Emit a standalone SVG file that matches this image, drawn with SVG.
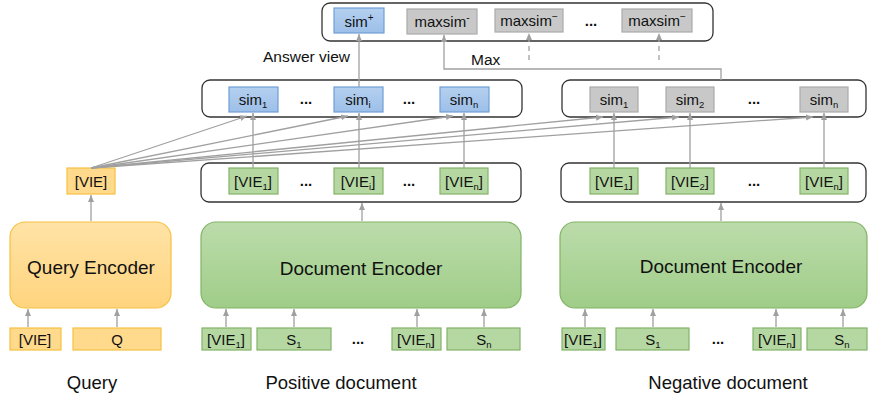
<svg xmlns="http://www.w3.org/2000/svg" width="875" height="398" viewBox="0 0 875 398">
<defs>
<marker id="ah" markerWidth="8" markerHeight="8" refX="7" refY="4" orient="auto" markerUnits="userSpaceOnUse">
<path d="M0,1 L7,4 L0,7 Z" fill="#a0a0a0"/>
</marker>
<linearGradient id="gG" x1="0" y1="0" x2="0" y2="1">
<stop offset="0" stop-color="#bcdcab"/><stop offset="1" stop-color="#9fcd88"/>
</linearGradient>
<linearGradient id="gO" x1="0" y1="0" x2="0" y2="1">
<stop offset="0" stop-color="#ffe3a6"/><stop offset="1" stop-color="#ffd47e"/>
</linearGradient>
<linearGradient id="gB" x1="0" y1="0" x2="0" y2="1">
<stop offset="0" stop-color="#b4d0f0"/><stop offset="1" stop-color="#9dbfe8"/>
</linearGradient>
</defs>
<style>
text{font-family:"Liberation Sans",Arial,sans-serif;fill:#111;}
.t{font-size:15px;text-anchor:middle;}
.enc{font-size:19px;text-anchor:middle;}
.lab{font-size:18.5px;text-anchor:middle;}
.sub{font-size:9.5px;}
.sup{font-size:10px;}
.cont{fill:#fff;stroke:#333;stroke-width:1.3;}
.g{fill:#b5d8a2;stroke:#82b366;stroke-width:1.2;}
.o{fill:#ffd98c;stroke:#f5c242;stroke-width:1.2;}
.b{fill:url(#gB);stroke:#6f9fd6;stroke-width:1.2;}
.gr{fill:#c8c8c8;stroke:#ababab;stroke-width:1.2;}
.ge{fill:url(#gG);stroke:#82b366;stroke-width:1.2;}
.oe{fill:url(#gO);stroke:#f5c242;stroke-width:1.2;}
.ca{stroke:#a0a0a0;stroke-width:1.3;fill:none;marker-end:url(#ah);}
.d{stroke:#a0a0a0;stroke-width:1.3;fill:none;stroke-dasharray:5,4;marker-end:url(#ah);}
.dots{font-size:15px;text-anchor:middle;font-weight:bold;}
.plain{font-size:15.5px;}
</style>

<g id="top-row">
<rect class="cont" x="322" y="3" width="391" height="38" rx="8"/>
<rect class="b" x="334" y="8" width="50" height="25"/>
<text class="t" x="359" y="26.5">sim<tspan class="sup" dy="-6">+</tspan></text>
<rect class="gr" x="407" y="9" width="70" height="25"/>
<text class="t" x="442" y="27">maxsim<tspan class="sup" dy="-6">-</tspan></text>
<rect class="gr" x="495" y="9" width="68" height="23"/>
<text class="t" x="529" y="25.5">maxsim<tspan class="sup" dy="-6">−</tspan></text>
<text class="dots" x="591" y="26">...</text>
<rect class="gr" x="622" y="9" width="70" height="23"/>
<text class="t" x="657" y="25.5">maxsim<tspan class="sup" dy="-6">−</tspan></text>
</g>

<g id="pos-sim">
<rect class="cont" x="202" y="80" width="320" height="37" rx="8"/>
<rect class="b" x="229" y="87" width="49" height="25"/>
<text class="t" x="253" y="104.5">sim<tspan class="sub" dy="3">1</tspan></text>
<text class="dots" x="306" y="104">...</text>
<rect class="b" x="334" y="87" width="49" height="25"/>
<text class="t" x="358" y="104.5">sim<tspan class="sub" dy="3">i</tspan></text>
<text class="dots" x="409" y="104">...</text>
<rect class="b" x="440" y="87" width="49" height="25"/>
<text class="t" x="464" y="104.5">sim<tspan class="sub" dy="3">n</tspan></text>
</g>

<g id="neg-sim">
<rect class="cont" x="562" y="80" width="304" height="37" rx="8"/>
<rect class="gr" x="590" y="87" width="48" height="25"/>
<text class="t" x="614" y="104.5">sim<tspan class="sub" dy="3">1</tspan></text>
<rect class="gr" x="666" y="87" width="48" height="25"/>
<text class="t" x="690" y="104.5">sim<tspan class="sub" dy="3">2</tspan></text>
<text class="dots" x="754" y="104">...</text>
<rect class="gr" x="800" y="87" width="48" height="25"/>
<text class="t" x="824" y="104.5">sim<tspan class="sub" dy="3">n</tspan></text>
</g>

<g id="query-vie">
<rect class="o" x="67" y="168" width="48" height="26"/>
<text class="t" x="91" y="186.5">[VIE]</text>
</g>

<g id="pos-vie">
<rect class="cont" x="201" y="163" width="320" height="39" rx="8"/>
<rect class="g" x="229" y="168" width="49" height="26"/>
<text class="t" x="253" y="186.5">[VIE<tspan class="sub" dy="3">1</tspan><tspan dy="-3">]</tspan></text>
<text class="dots" x="306" y="186">...</text>
<rect class="g" x="334" y="168" width="49" height="26"/>
<text class="t" x="358" y="186.5">[VIE<tspan class="sub" dy="3">i</tspan><tspan dy="-3">]</tspan></text>
<text class="dots" x="409" y="186">...</text>
<rect class="g" x="440" y="168" width="48" height="26"/>
<text class="t" x="464" y="186.5">[VIE<tspan class="sub" dy="3">n</tspan><tspan dy="-3">]</tspan></text>
</g>

<g id="neg-vie">
<rect class="cont" x="561" y="163" width="305" height="39" rx="8"/>
<rect class="g" x="590" y="168" width="48" height="26"/>
<text class="t" x="614" y="186.5">[VIE<tspan class="sub" dy="3">1</tspan><tspan dy="-3">]</tspan></text>
<rect class="g" x="666" y="168" width="48" height="26"/>
<text class="t" x="690" y="186.5">[VIE<tspan class="sub" dy="3">2</tspan><tspan dy="-3">]</tspan></text>
<text class="dots" x="754" y="186">...</text>
<rect class="g" x="800" y="168" width="48" height="26"/>
<text class="t" x="824" y="186.5">[VIE<tspan class="sub" dy="3">n</tspan><tspan dy="-3">]</tspan></text>
</g>

<g id="query-encoder">
<rect class="oe" x="10" y="222" width="161" height="86" rx="15"/>
<text class="enc" x="91" y="274">Query Encoder</text>
</g>
<g id="pos-encoder">
<rect class="ge" x="201" y="222" width="320" height="86" rx="15"/>
<text class="enc" x="361" y="275">Document Encoder</text>
</g>
<g id="neg-encoder">
<rect class="ge" x="560" y="222" width="307" height="86" rx="15"/>
<text class="enc" x="721" y="273">Document Encoder</text>
</g>

<g id="query-inputs">
<rect class="o" x="10" y="328" width="51" height="22"/>
<text class="t" x="35" y="344.5">[VIE]</text>
<rect class="o" x="73" y="328" width="88" height="22"/>
<text class="t" x="117" y="344.5">Q</text>
</g>
<g id="pos-inputs">
<rect class="g" x="202" y="328" width="49" height="22"/>
<text class="t" x="226" y="344.5">[VIE<tspan class="sub" dy="3">1</tspan><tspan dy="-3">]</tspan></text>
<rect class="g" x="257" y="328" width="74" height="22"/>
<text class="t" x="294" y="344.5">S<tspan class="sub" dy="3">1</tspan></text>
<text class="dots" x="358" y="344">...</text>
<rect class="g" x="392" y="328" width="49" height="22"/>
<text class="t" x="416" y="344.5">[VIE<tspan class="sub" dy="3">n</tspan><tspan dy="-3">]</tspan></text>
<rect class="g" x="447" y="328" width="73" height="22"/>
<text class="t" x="484" y="344.5">S<tspan class="sub" dy="3">n</tspan></text>
</g>
<g id="neg-inputs">
<rect class="g" x="562" y="328" width="43" height="22"/>
<text class="t" x="583" y="344.5">[VIE<tspan class="sub" dy="3">1</tspan><tspan dy="-3">]</tspan></text>
<rect class="g" x="616" y="328" width="73" height="22"/>
<text class="t" x="653" y="344.5">S<tspan class="sub" dy="3">1</tspan></text>
<text class="dots" x="718" y="344">...</text>
<rect class="g" x="753" y="328" width="48" height="22"/>
<text class="t" x="777" y="344.5">[VIE<tspan class="sub" dy="3">n</tspan><tspan dy="-3">]</tspan></text>
<rect class="g" x="807" y="328" width="60" height="22"/>
<text class="t" x="842" y="344.5">S<tspan class="sub" dy="3">n</tspan></text>
</g>

<g id="labels">
<text class="lab" x="92" y="389">Query</text>
<text class="lab" x="341" y="389">Positive document</text>
<text class="lab" x="728" y="389">Negative document</text>
<text class="plain" x="263" y="62">Answer view</text>
<text class="plain" x="471" y="64.5">Max</text>
</g>

<g id="connectors">
<line class="ca" x1="28" y1="327" x2="28" y2="309"/>
<line class="ca" x1="117" y1="327" x2="117" y2="309"/>
<line class="ca" x1="226" y1="327" x2="226" y2="309"/>
<line class="ca" x1="294" y1="327" x2="294" y2="309"/>
<line class="ca" x1="417" y1="327" x2="417" y2="309"/>
<line class="ca" x1="484" y1="327" x2="484" y2="309"/>
<line class="ca" x1="585" y1="327" x2="585" y2="309"/>
<line class="ca" x1="653" y1="327" x2="653" y2="309"/>
<line class="ca" x1="776" y1="327" x2="776" y2="309"/>
<line class="ca" x1="843" y1="327" x2="843" y2="309"/>
<line class="ca" x1="91" y1="221" x2="91" y2="195"/>
<line class="ca" x1="362" y1="221" x2="362" y2="203"/>
<line class="ca" x1="721" y1="221" x2="721" y2="203"/>
<line class="ca" x1="253" y1="168" x2="253" y2="113"/>
<line class="ca" x1="359" y1="168" x2="359" y2="113"/>
<line class="ca" x1="464" y1="168" x2="464" y2="113"/>
<line class="ca" x1="614" y1="168" x2="614" y2="113"/>
<line class="ca" x1="690" y1="168" x2="690" y2="113"/>
<line class="ca" x1="824" y1="168" x2="824" y2="113"/>
<line class="ca" x1="91" y1="168" x2="247" y2="116"/>
<line class="ca" x1="91" y1="168" x2="348" y2="116"/>
<line class="ca" x1="91" y1="168" x2="453" y2="116"/>
<line class="ca" x1="91" y1="168" x2="603" y2="117"/>
<line class="ca" x1="91" y1="168" x2="679" y2="117"/>
<line class="ca" x1="91" y1="168" x2="813" y2="117"/>
<line class="ca" x1="359" y1="87" x2="359" y2="34"/>
<path class="ca" d="M721,80 V69 H444 V35"/>
<line class="d" x1="529" y1="60" x2="529" y2="33"/>
<line class="d" x1="659" y1="60" x2="659" y2="33"/>
</g>
</svg>
